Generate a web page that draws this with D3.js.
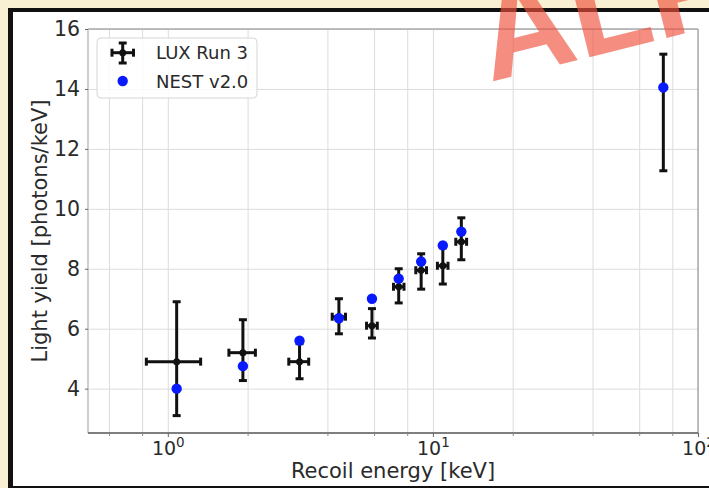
<!DOCTYPE html>
<html>
<head>
<meta charset="utf-8">
<script src="https://cdn.jsdelivr.net/npm/d3@7"></script>
<style>
  html, body { margin: 0; padding: 0; background: #f9efd2; overflow: hidden; }
  svg { display: block; font-family: "DejaVu Sans", sans-serif; }
</style>
</head>
<body>
<svg id="chart" width="709" height="488"></svg>
<script>
/********/
/* data */
/********/

// LUX Run 3 measurements: recoil energy (keV) with x and y error bars
const luxEnergy = [1.08, 1.92, 3.14, 4.42, 5.89, 7.43, 9.03, 10.9, 12.8, 74.0];
const luxEnergyLow = [0.83, 1.7, 2.86, 4.17, 5.62, 7.1, 8.62, 10.4, 12.2, 74.0];
const luxEnergyHigh = [1.33, 2.14, 3.4, 4.68, 6.17, 7.78, 9.46, 11.4, 13.4, 74.0];
const luxYield = [4.9, 5.2, 4.9, 6.4, 6.1, 7.4, 7.95, 8.1, 8.9, 14.0];
const luxYieldLow = [3.1, 4.27, 4.33, 5.83, 5.69, 6.86, 7.32, 7.49, 8.3, 11.27];
const luxYieldHigh = [6.9, 6.3, 5.5, 7.0, 6.67, 8.0, 8.5, 8.7, 9.7, 15.16];

// NEST v2.0 predictions
const nestEnergy = [1.08, 1.92, 3.14, 4.42, 5.89, 7.43, 9.03, 10.9, 12.8, 74.0];
const nestYield = [4.0, 4.75, 5.6, 6.35, 7.0, 7.67, 8.24, 8.78, 9.24, 14.05];

const xMajorTicks = [1, 10, 100];
const xMinorTicks = [0.6, 0.8, 2, 4, 6, 8, 20, 40, 60, 80];
const yTicks = [4, 6, 8, 10, 12, 14, 16];

const seriesNames = ["LUX Run 3", "NEST v2.0"];

/**********/
/* layout */
/**********/

const plot = { left: 88, right: 698, top: 29, bottom: 433 };
const errColour = "#111111";
const nestColour = "#0a1aff";
const gridColour = "#dcdcdc";
const textColour = "#2a2a2a";

const svg = d3.select("#chart");

const x = d3.scaleLog().domain([0.5, 100]).range([plot.left, plot.right]);
const y = d3.scaleLinear().domain([2.52, 16]).range([plot.bottom, plot.top]);

/*********/
/* frame */
/*********/

function frameView() {
  svg.append("rect")
    .attr("x", 8).attr("y", 8)
    .attr("width", 720).attr("height", 480)
    .attr("fill", "#111");
  svg.append("rect")
    .attr("x", 13).attr("y", 12)
    .attr("width", 720).attr("height", 474)
    .attr("fill", "#ffffff");
}

/********/
/* grid */
/********/

function gridView() {
  const g = svg.append("g");

  g.append("g")
    .attr("transform", `translate(0,${plot.bottom})`)
    .call(d3.axisBottom(x)
      .tickValues(xMajorTicks.concat(xMinorTicks))
      .tickSize(-(plot.bottom - plot.top))
      .tickFormat(""))
    .call(a => a.select(".domain").remove())
    .call(a => a.selectAll("line").attr("stroke", gridColour).attr("stroke-width", 1));

  g.append("g")
    .attr("transform", `translate(${plot.left},0)`)
    .call(d3.axisLeft(y)
      .tickValues(yTicks)
      .tickSize(-(plot.right - plot.left))
      .tickFormat(""))
    .call(a => a.select(".domain").remove())
    .call(a => a.selectAll("line").attr("stroke", gridColour).attr("stroke-width", 1));
}

/********/
/* axes */
/********/

function axesView() {
  // spines
  const spines = [
    { x1: plot.left, y1: plot.top, x2: plot.right, y2: plot.top, c: "#aaaaaa" },
    { x1: plot.right, y1: plot.top, x2: plot.right, y2: plot.bottom, c: "#a0a0a0" },
    { x1: plot.left, y1: plot.top, x2: plot.left, y2: plot.bottom, c: "#b4b4b4" },
    { x1: plot.left, y1: plot.bottom, x2: plot.right, y2: plot.bottom, c: "#555555" },
  ];
  svg.append("g")
    .selectAll("line")
    .data(spines)
    .enter()
    .append("line")
    .attr("x1", d => d.x1).attr("y1", d => d.y1)
    .attr("x2", d => d.x2).attr("y2", d => d.y2)
    .attr("stroke", d => d.c)
    .attr("stroke-width", 1.3);

  // x minor ticks
  svg.append("g")
    .attr("transform", `translate(0,${plot.bottom})`)
    .call(d3.axisBottom(x).tickValues(xMinorTicks).tickSize(3).tickFormat(""))
    .call(a => a.select(".domain").remove())
    .call(a => a.selectAll("line").attr("stroke", "#888"));

  // x major ticks, labels as 10^n
  const xAxis = svg.append("g")
    .attr("transform", `translate(0,${plot.bottom})`)
    .call(d3.axisBottom(x).tickValues(xMajorTicks).tickSize(4).tickPadding(6))
    .call(a => a.select(".domain").remove());
  xAxis.selectAll("line").attr("stroke", "#666");
  xAxis.selectAll("text").each(function(d) {
    const t = d3.select(this);
    t.text("")
      .attr("fill", textColour)
      .attr("font-size", 19)
      .attr("font-family", "DejaVu Sans")
      .attr("dy", null)
      .attr("y", 22);
    t.append("tspan").text("10");
    t.append("tspan")
      .text(Math.round(Math.log10(d)))
      .attr("font-size", 13.5)
      .attr("dy", -8);
  });

  // y ticks
  const yAxis = svg.append("g")
    .attr("transform", `translate(${plot.left},0)`)
    .call(d3.axisLeft(y).tickValues(yTicks).tickSize(3).tickPadding(5))
    .call(a => a.select(".domain").remove());
  yAxis.selectAll("line").attr("stroke", "#666");
  yAxis.selectAll("text")
    .attr("fill", textColour)
    .attr("font-size", 20.5)
    .attr("font-family", "DejaVu Sans");

  // axis labels
  svg.append("text")
    .attr("x", (plot.left + plot.right) / 2)
    .attr("y", 478)
    .attr("text-anchor", "middle")
    .attr("font-size", 21)
    .attr("fill", textColour)
    .text("Recoil energy [keV]");

  svg.append("text")
    .attr("transform", `translate(47,${(plot.top + plot.bottom) / 2}) rotate(-90)`)
    .attr("text-anchor", "middle")
    .attr("font-size", 21)
    .attr("fill", textColour)
    .text("Light yield [photons/keV]");
}

/********/
/* data */
/********/

function errorBar(g, cx, cy, x0, x1, y0, y1) {
  const cap = 4;
  const w = 3;
  const segs = [
    [x0, cy, x1, cy],
    [cx, y0, cx, y1],
  ];
  if (x1 - x0 > 1) {
    segs.push([x0, cy - cap, x0, cy + cap]);
    segs.push([x1, cy - cap, x1, cy + cap]);
  }
  segs.push([cx - cap, y0, cx + cap, y0]);
  segs.push([cx - cap, y1, cx + cap, y1]);
  segs.forEach(s => {
    g.append("line")
      .attr("x1", s[0]).attr("y1", s[1])
      .attr("x2", s[2]).attr("y2", s[3])
      .attr("stroke", errColour)
      .attr("stroke-width", w);
  });
  g.append("circle")
    .attr("cx", cx).attr("cy", cy).attr("r", 3.5)
    .attr("fill", errColour);
}

function dataView() {
  const g = svg.append("g");
  luxEnergy.forEach((e, i) => {
    errorBar(
      g,
      x(e), y(luxYield[i]),
      x(luxEnergyLow[i]), x(luxEnergyHigh[i]),
      y(luxYieldLow[i]), y(luxYieldHigh[i]),
    );
  });

  g.selectAll(".nest")
    .data(nestEnergy.map((e, i) => [e, nestYield[i]]))
    .enter()
    .append("circle")
    .attr("class", "nest")
    .attr("cx", d => x(d[0]))
    .attr("cy", d => y(d[1]))
    .attr("r", 5.2)
    .attr("fill", nestColour);
}

/**********/
/* legend */
/**********/

function legendView() {
  const g = svg.append("g");
  g.append("rect")
    .attr("x", 97).attr("y", 38)
    .attr("width", 160).attr("height", 60)
    .attr("rx", 4)
    .attr("fill", "#ffffff")
    .attr("fill-opacity", 0.85)
    .attr("stroke", "#d6d6d6");

  const lg = g.append("g");
  errorBar(lg, 122.7, 52.7, 112, 133.5, 63, 43);

  g.append("circle")
    .attr("cx", 122.7).attr("cy", 81)
    .attr("r", 5.2)
    .attr("fill", nestColour);

  g.selectAll(".legend-text")
    .data(seriesNames)
    .enter()
    .append("text")
    .attr("class", "legend-text")
    .attr("x", 156)
    .attr("y", (d, i) => 59 + i * 28.5)
    .attr("font-size", 18)
    .attr("fill", textColour)
    .text(d => d);
}

/*************/
/* watermark */
/*************/

function watermarkView() {
  svg.append("text")
    .attr("transform", "translate(490,82) rotate(-14)")
    .attr("font-family", "Liberation Sans, Arial, sans-serif")
    .attr("font-weight", "bold")
    .attr("font-size", 130)
    .attr("fill", "rgb(240,80,60)")
    .attr("fill-opacity", 0.65)
    .text("ALP");
}

/********/
/* init */
/********/

frameView();
gridView();
axesView();
dataView();
legendView();
watermarkView();
</script>
</body>
</html>
